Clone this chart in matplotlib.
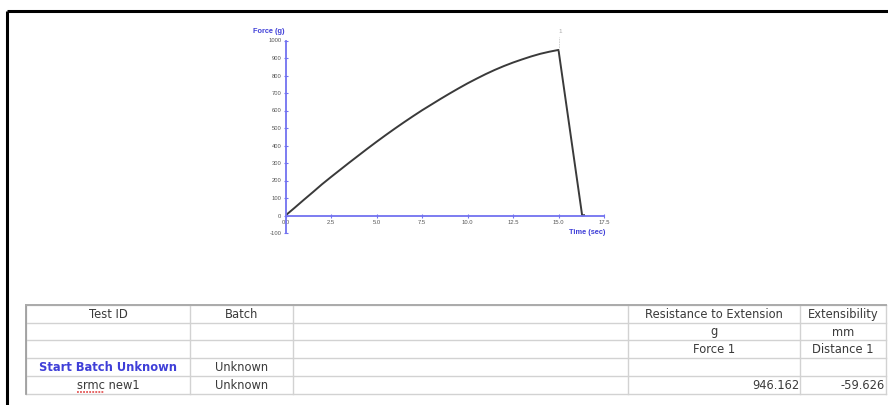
import matplotlib
matplotlib.use("Agg")
import matplotlib.pyplot as plt

plt.rcParams['font.family'] = ['Liberation Sans', 'DejaVu Sans']

# force / time trace of the extension test
time_s = [0.0, 0.5, 1.0, 1.5, 2.0, 2.5, 3.0, 3.5, 4.0, 4.5, 5.0, 5.5, 6.0,
          6.5, 7.0, 7.5, 8.0, 8.5, 9.0, 9.5, 10.0, 10.5, 11.0, 11.5, 12.0,
          12.5, 13.0, 13.5, 14.0, 14.5, 15.0, 16.3, 16.4]
force_g = [0, 44, 89, 133, 178, 220, 261, 302, 342, 382, 421, 459, 496,
           532, 567, 601, 633, 665, 696, 726, 755, 782, 808, 832, 854,
           874, 892, 909, 924, 936, 946.162, 0, 2]

x_ticks = [0.0, 2.5, 5.0, 7.5, 10.0, 12.5, 15.0, 17.5]
y_ticks = [-100, 0, 100, 200, 300, 400, 500, 600, 700, 800, 900, 1000]
peak_label = "1"

# results table
col_edges = [26, 190, 293, 628, 800, 886]
row_edges = [305, 323, 340, 358, 376, 394]
header_row = ["Test ID", "Batch", "", "Resistance to Extension", "Extensibility"]
unit_row = ["", "", "", "g", "mm"]
measure_row = ["", "", "", "Force 1", "Distance 1"]
batch_row = ["Start Batch Unknown", "Unknown", "", "", ""]
test_row = ["srmc new1", "Unknown", "", "946.162", "-59.626"]
table_rows = [header_row, unit_row, measure_row, batch_row, test_row]

W, H = 888, 405
fig = plt.figure(figsize=(W / 100, H / 100), dpi=100)

# page overlay in pixel coordinates
page = fig.add_axes([0, 0, 1, 1])
page.set_xlim(0, W)
page.set_ylim(H, 0)
page.axis('off')

# page frame (top and left edges)
page.plot([7, W], [11, 11], color='black', lw=2.2, solid_capstyle='butt')
page.plot([7, 7], [11, H], color='black', lw=2.2, solid_capstyle='butt')

# table grid
grid_c = '#d2d2d2'
for y in row_edges:
    page.plot([col_edges[0], col_edges[-1]], [y, y], color=grid_c, lw=1.0)
for x in col_edges:
    page.plot([x, x], [row_edges[0], row_edges[-1]], color=grid_c, lw=1.0)
page.plot([col_edges[0], col_edges[0]], [row_edges[0], row_edges[-1]], color='#999999', lw=1.2)
page.plot([col_edges[0], col_edges[-1]], [row_edges[0], row_edges[0]], color='#aaaaaa', lw=1.4)

txt_c = '#3a3a3a'
tfont = dict(fontsize=8.3, family='DejaVu Sans')
for r, row in enumerate(table_rows):
    yc = (row_edges[r] + row_edges[r + 1]) / 2 + 0.5
    for c, val in enumerate(row):
        if not val:
            continue
        x0, x1 = col_edges[c], col_edges[c + 1]
        color, weight = txt_c, 'normal'
        if val == "Start Batch Unknown":
            color, weight = '#3f3fd8', 'bold'
        if row is test_row and c >= 3:
            page.text(x1 - 1, yc, val, ha='right', va='center',
                      color=color, fontweight=weight, **tfont)
        else:
            page.text((x0 + x1) / 2, yc, val, ha='center', va='center',
                      color=color, fontweight=weight, **tfont)

# spell-check squiggle under "srmc"
page.plot([77, 104], [391.5, 391.5], color='#e03a3a', lw=1.1, ls=(0, (1.2, 0.8)))

# force curve
ax = fig.add_axes([285.5 / W, 1 - 233 / H, (604 - 285.5) / W, (233 - 40.5) / H])
ax.set_facecolor('none')
ax.plot(time_s, force_g, color='#3a3a3a', lw=1.4, solid_joinstyle='round')
ax.set_xlim(0, 17.5)
ax.set_ylim(-100, 1000)
for s in ['top', 'right']:
    ax.spines[s].set_visible(False)
ax.spines['bottom'].set_position(('data', 0))
ax.spines['left'].set_position(('data', 0))
for s in ['bottom', 'left']:
    ax.spines[s].set_color('#7272f0')
    ax.spines[s].set_linewidth(1.3)
ax.set_xticks(x_ticks)
ax.set_xticklabels([f"{t:.1f}" for t in x_ticks])
ax.set_yticks(y_ticks)
ax.set_yticklabels([str(v) for v in y_ticks])
ax.tick_params(axis='both', colors='#7272f0', labelcolor='#555555',
               labelsize=4.2, length=3, width=0.8, pad=1.5, direction='inout')

ax.text(-1.8, 1052, "Force (g)", fontsize=5.3, color='#3f3fd8', fontweight='bold',
        ha='left', va='center', clip_on=False)
ax.text(17.55, -100, "Time (sec)", fontsize=5.3, color='#3f3fd8', fontweight='bold',
        ha='right', va='center', clip_on=False)

# peak marker
ax.plot([15.0, 15.0], [946.162, 1020], color='#cccccc', lw=0.6, ls=(0, (2, 1)), clip_on=False)
ax.text(15.1, 1050, peak_label, fontsize=4.5, color='#aaaaaa', ha='center',
        va='center', clip_on=False)

fig.savefig("out.png", dpi=100)
